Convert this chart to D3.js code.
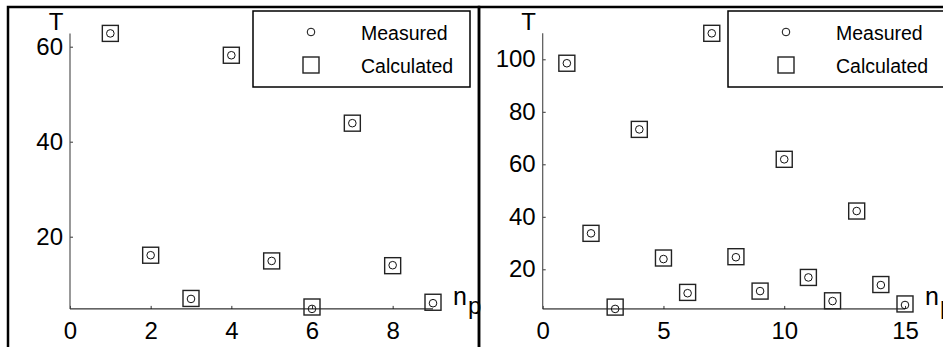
<!DOCTYPE html>
<html>
<head>
<meta charset="utf-8">
<script src="https://cdn.jsdelivr.net/npm/d3@7"></script>
<style>
  body { margin: 0; background: white; }
  svg { display: block; font-family: "Liberation Sans", Arial, sans-serif; }
</style>
</head>
<body>
<div id="vis"></div>
<script>
// left panel
var leftN = [1, 2, 3, 4, 5, 6, 7, 8, 9];
var leftMeasured = [62.8, 16.1, 6.9, 58.2, 14.9, 4.8, 43.9, 14.0, 6.0];
var leftCalculated = [62.8, 16.1, 7.0, 58.2, 14.9, 5.2, 43.9, 13.9, 6.2];
var leftXTicks = [0, 2, 4, 6, 8];
var leftYTicks = [20, 40, 60];

// right panel
var rightN = [1, 2, 3, 4, 5, 6, 7, 8, 9, 10, 11, 12, 13, 14, 15];
var rightMeasured = [98.5, 33.7, 4.9, 73.3, 23.9, 10.9, 109.9, 24.6, 11.7, 61.9, 16.9, 7.9, 42.2, 14.0, 6.4];
var rightCalculated = [98.5, 33.7, 5.6, 73.3, 24.3, 11.2, 109.9, 24.8, 11.7, 61.9, 16.9, 8.0, 42.2, 14.2, 6.8];
var rightXTicks = [0, 5, 10, 15];
var rightYTicks = [20, 40, 60, 80, 100];

var legendLabels = ["Measured", "Calculated"];

var W = 943, H = 347;

var svg = d3.select("#vis")
  .append("svg")
    .attr("width", W)
    .attr("height", H);

// frames round the two panels
svg.append("rect")
  .attr("x", 8).attr("y", 7)
  .attr("width", 471).attr("height", 360)
  .attr("fill", "none").attr("stroke", "black").attr("stroke-width", 2.5);
svg.append("rect")
  .attr("x", 479).attr("y", 7)
  .attr("width", 480).attr("height", 360)
  .attr("fill", "none").attr("stroke", "black").attr("stroke-width", 2.5);

function drawPanel(p) {
  var g = svg.append("g");

  var x = d3.scaleLinear().domain(p.xDomain).range(p.xRange);
  var y = d3.scaleLinear().domain(p.yDomain).range(p.yRange);

  var all = p.measured.concat(p.calculated);
  var yMin = d3.min(p.measured), yMax = d3.max(all);
  var xMax = d3.max(p.n);

  // x axis sits at the smallest value
  var xAxis = g.append("g")
    .attr("transform", "translate(0," + y(yMin) + ")")
    .call(d3.axisBottom(x).tickValues(p.xTicks).tickSizeInner(-3).tickSizeOuter(0).tickPadding(13));
  xAxis.select(".domain").remove();
  xAxis.append("line")
    .attr("x1", x(0)).attr("x2", x(xMax))
    .attr("stroke", "black").attr("stroke-width", 1);

  var yAxis = g.append("g")
    .attr("transform", "translate(" + x(0) + ",0)")
    .call(d3.axisLeft(y).tickValues(p.yTicks).tickSizeInner(-3).tickSizeOuter(0).tickPadding(7));
  yAxis.select(".domain").remove();
  yAxis.append("line")
    .attr("y1", y(yMin)).attr("y2", y(yMax))
    .attr("stroke", "#555").attr("stroke-width", 1.2);

  g.selectAll(".tick line").attr("stroke", "#333");
  g.selectAll(".tick text")
    .attr("fill", "black")
    .style("font-size", "24px")
    .style("font-family", "'Liberation Sans', Arial, sans-serif");

  // axis names
  g.append("text")
    .attr("x", x(0) - 14).attr("y", 30)
    .attr("text-anchor", "middle")
    .style("font-size", "24px")
    .text("T");
  var np = g.append("text")
    .attr("x", x(xMax) + 20).attr("y", y(yMin) - 4)
    .style("font-size", "25px");
  np.append("tspan").text("n");
  np.append("tspan").attr("dy", 9).attr("dx", 1).style("font-size", "24px").text("p");

  // calculated: squares
  g.selectAll(".calc")
    .data(p.calculated)
    .enter()
    .append("rect")
    .attr("class", "calc")
    .attr("x", function(d, i) { return x(p.n[i]) - 8; })
    .attr("y", function(d) { return y(d) - 8; })
    .attr("width", 16).attr("height", 16)
    .attr("fill", "none")
    .attr("stroke", "#222")
    .attr("stroke-width", 1.4);

  // measured: circles
  g.selectAll(".meas")
    .data(p.measured)
    .enter()
    .append("circle")
    .attr("class", "meas")
    .attr("cx", function(d, i) { return x(p.n[i]); })
    .attr("cy", function(d) { return y(d); })
    .attr("r", 3.8)
    .attr("fill", "none")
    .attr("stroke", "#111")
    .attr("stroke-width", 1);

  // legend
  var lg = g.append("g").attr("transform", "translate(" + p.legendX + ",11)");
  lg.append("rect")
    .attr("width", 217).attr("height", 76)
    .attr("fill", "white").attr("stroke", "black").attr("stroke-width", 1.5);
  lg.append("circle")
    .attr("cx", 58).attr("cy", 21).attr("r", 3.8)
    .attr("fill", "none").attr("stroke", "#111");
  lg.append("rect")
    .attr("x", 50).attr("y", 46).attr("width", 16).attr("height", 16)
    .attr("fill", "none").attr("stroke", "#222").attr("stroke-width", 1.4);
  lg.selectAll(".lab")
    .data(legendLabels)
    .enter()
    .append("text")
    .attr("class", "lab")
    .attr("x", 108)
    .attr("y", function(d, i) { return 29 + i * 33; })
    .style("font-size", "19.5px")
    .text(function(d) { return d; });
}

drawPanel({
  n: leftN, measured: leftMeasured, calculated: leftCalculated,
  xTicks: leftXTicks, yTicks: leftYTicks,
  xDomain: [0, 9], xRange: [70, 433],
  yDomain: [0, 60], yRange: [331.7, 46.7],
  legendX: 253
});

drawPanel({
  n: rightN, measured: rightMeasured, calculated: rightCalculated,
  xTicks: rightXTicks, yTicks: rightYTicks,
  xDomain: [0, 15], xRange: [542.7, 905],
  yDomain: [0, 100], yRange: [321.8, 59.3],
  legendX: 728
});
</script>
</body>
</html>
